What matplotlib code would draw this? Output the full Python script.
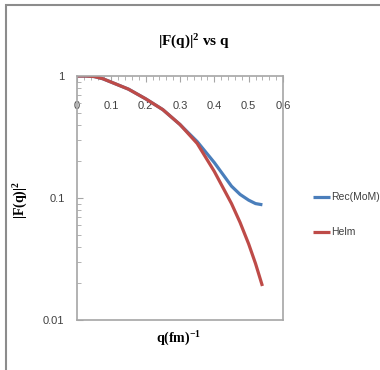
import numpy as np
import matplotlib
matplotlib.use("Agg")
import matplotlib.pyplot as plt
from matplotlib.patches import Rectangle
from matplotlib.ticker import MultipleLocator, FixedLocator, LogLocator, NullFormatter

plt.rcParams["mathtext.fontset"] = "custom"
plt.rcParams["mathtext.rm"] = "Liberation Serif:bold"
plt.rcParams["mathtext.bf"] = "Liberation Serif:bold"

# ── Data ──────────────────────────────────────────────────
q_vals   = [0.0, 0.025, 0.05, 0.075, 0.10, 0.15, 0.20, 0.25, 0.30, 0.35, 0.40, 0.45, 0.475, 0.50, 0.52, 0.54]
rec_mom  = [1.0, 1.0, 0.99, 0.95, 0.89, 0.78, 0.65, 0.53, 0.40, 0.29, 0.195, 0.125, 0.107, 0.096, 0.090, 0.088]
helm     = [1.0, 1.0, 0.99, 0.95, 0.89, 0.78, 0.65, 0.53, 0.40, 0.28, 0.165, 0.090, 0.063, 0.042, 0.029, 0.019]
x_ticks  = [0, 0.1, 0.2, 0.3, 0.4, 0.5, 0.6]
x_labels = ["0", "0.1", "0.2", "0.3", "0.4", "0.5", "0.6"]
y_ticks  = [0.01, 0.1, 1]
y_labels = ["0.01", "0.1", "1"]

BLUE = "#4a7ebb"
RED  = "#be4b48"
AXC  = "#a6a6a6"
tick_font = "Liberation Sans"
serif = "Liberation Serif"

fig = plt.figure(figsize=(3.8, 3.7), dpi=100)
ax = fig.add_axes([77 / 380, 1 - 320 / 370, 206 / 380, 244 / 370])

ax.plot(q_vals, rec_mom, color=BLUE, lw=2.3, label="Rec(MoM)", solid_capstyle="butt")
ax.plot(q_vals, helm, color=RED, lw=2.3, label="Helm", solid_capstyle="butt")

ax.set_yscale("log")
ax.set_xlim(0, 0.6)
ax.set_ylim(0.01, 1)

# x axis sits on the top line, labels drawn below it
ax.xaxis.set_major_locator(FixedLocator(x_ticks))
ax.set_xticklabels(x_labels, family=tick_font, fontsize=8, color="#404040")
ax.xaxis.set_minor_locator(MultipleLocator(0.02))
ax.tick_params(axis="x", which="both", top=True, bottom=False, labeltop=True,
               labelbottom=False, direction="in", color=AXC, pad=-25)
ax.tick_params(axis="x", which="major", length=4)
ax.tick_params(axis="x", which="minor", length=3)

ax.yaxis.set_major_locator(FixedLocator(y_ticks))
ax.set_yticklabels(y_labels, family=tick_font, fontsize=8, color="#404040")
ax.yaxis.set_minor_locator(LogLocator(base=10, subs=np.arange(2, 10)))
ax.yaxis.set_minor_formatter(NullFormatter())
ax.tick_params(axis="y", which="both", left=True, right=False, direction="in",
               color=AXC, pad=9)
ax.tick_params(axis="y", which="major", length=4)
ax.tick_params(axis="y", which="minor", length=3)

for s in ax.spines.values():
    s.set_color(AXC)
    s.set_linewidth(1.2)

# title centred on the whole chart area, not the plot box
ax.set_title(r"$\mathrm{|F(q)|^2}$ vs q", family=serif, fontweight="bold", fontsize=11,
             pad=22, x=0.57)
ax.set_ylabel(r"$\mathrm{|F(q)|^2}$", family=serif, fontweight="bold", fontsize=10)
ax.yaxis.set_label_coords(-0.228, 0.49)
ax.set_xlabel(r"$\mathrm{q(fm)^{-1}}$", family=serif, fontweight="bold", fontsize=10)
ax.xaxis.set_label_coords(0.495, -0.04)

fig.legend(loc="center left", bbox_to_anchor=(304 / 380, 1 - 215 / 370),
           frameon=False, handlelength=1.6, handletextpad=0.1, labelspacing=2.4,
           prop={"family": tick_font, "size": 7.5}, labelcolor="#404040")

# outer chart frame (left and top edges visible)
fig.add_artist(Rectangle((6 / 380, -0.1), 1.2, 1.1 - 5 / 370,
                         transform=fig.transFigure, fill=False,
                         edgecolor="#8c8c8c", lw=1.5, clip_on=False))

fig.savefig("out.png", dpi=100)
